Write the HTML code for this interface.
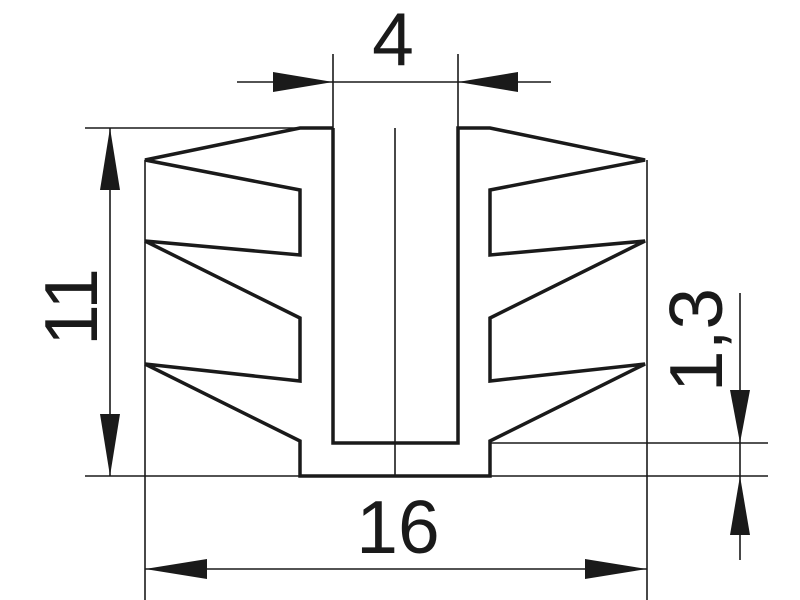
<!DOCTYPE html>
<html><head><style>body{margin:0;background:#fff}svg{display:block}</style></head><body>
<svg width="800" height="600" viewBox="0 0 800 600" xmlns="http://www.w3.org/2000/svg">
<g stroke="#1a1a1a" fill="none" stroke-width="1.6">
<line x1="85" y1="128" x2="300" y2="128"/>
<line x1="85" y1="476" x2="300" y2="476"/>
<line x1="490" y1="476" x2="768" y2="476"/>
<line x1="490" y1="443" x2="768" y2="443"/>
<line x1="145" y1="160" x2="145" y2="600"/>
<line x1="647" y1="160" x2="647" y2="600"/>
<line x1="395" y1="128" x2="395" y2="476"/>
<line x1="333" y1="54" x2="333" y2="128"/>
<line x1="458" y1="54" x2="458" y2="128"/>
<line x1="237" y1="82" x2="551" y2="82"/>
<line x1="110" y1="128" x2="110" y2="476"/>
<line x1="145" y1="569" x2="647" y2="569"/>
<line x1="740" y1="293" x2="740" y2="560"/>
</g>
<polyline fill="none" stroke="#1a1a1a" stroke-width="3.5" stroke-linejoin="miter" points="333,128 300,128 145,160 300,190 300,255 145,241 300,318 300,381 145,364 300,441 300,476 490,476 490,441 645,364 490,381 490,318 645,241 490,255 490,190 645,160 490,128 458,128 458,443 333,443 333,128"/>
<g fill="#1a1a1a">
<polygon points="333,82 273,72 273,92"/>
<polygon points="458,82 518,72 518,92"/>
<polygon points="110,128 100,190 120,190"/>
<polygon points="110,476 100,414 120,414"/>
<polygon points="145,569 207,559 207,579"/>
<polygon points="647,569 585,559 585,579"/>
<polygon points="740,443 730,390 750,390"/>
<polygon points="740,476 730,535 750,535"/>
</g>
<g font-family="Liberation Sans, sans-serif" font-size="75" fill="#1a1a1a" text-anchor="middle">
<text x="393" y="65">4</text>
<text x="398" y="553">16</text>
<text transform="translate(97,307) rotate(-90)" x="0" y="0">11</text>
<text transform="translate(722,340) rotate(-90)" x="0" y="0">1,3</text>
</g>
</svg>
</body></html>
